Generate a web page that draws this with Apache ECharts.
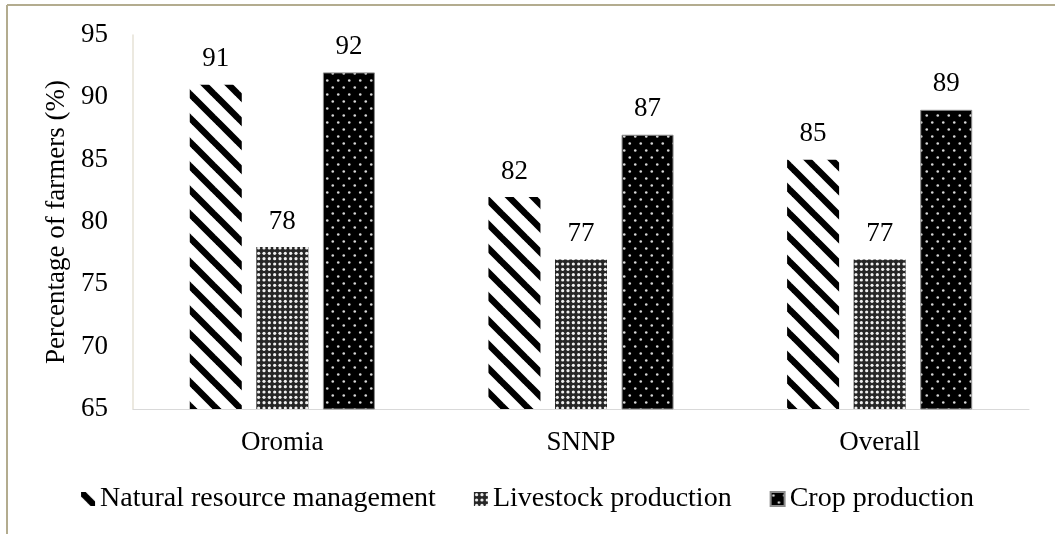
<!DOCTYPE html>
<html>
<head>
<meta charset="utf-8">
<script src="https://cdn.jsdelivr.net/npm/echarts@6/dist/echarts.min.js"></script>
<style>
  html, body { margin: 0; padding: 0; background: #fff; }
  #chart { width: 1055px; height: 534px; }
</style>
</head>
<body>
<div id="chart"></div>
<script>
// Regions and the share of farmers receiving each extension service
const categories = ['Oromia', 'SNNP', 'Overall'];
const naturalResource = [91, 82, 85];
const livestock = [78, 77, 77];
const crop = [92, 87, 89];
const yTicks = { min: 65, max: 95, interval: 5 };

const FONT = 'Liberation Serif, Times New Roman, serif';
const FS = 27;

// Diagonal black stripes ("\" direction)
function stripePattern() {
  const T = 24;
  const c = document.createElement('canvas');
  c.width = T; c.height = T;
  const g = c.getContext('2d');
  g.fillStyle = '#fff';
  g.fillRect(0, 0, T, T);
  g.strokeStyle = '#000';
  g.lineWidth = 6.5;
  for (let k = -1; k <= 1; k++) {
    g.beginPath();
    g.moveTo(k * T - 2, -2);
    g.lineTo(k * T + T + 2, T + 2);
    g.stroke();
  }
  return c;
}

// Dense grid of small light dots on dark ground
function fineDotPattern() {
  const T = 16;
  const c = document.createElement('canvas');
  c.width = T; c.height = T;
  const g = c.getContext('2d');
  g.fillStyle = '#262626';
  g.fillRect(0, 0, T, T);
  g.fillStyle = '#f0f0f0';
  const step = T / 3;
  for (let i = 0; i < 3; i++) {
    for (let j = 0; j < 3; j++) {
      g.beginPath();
      g.arc(step / 2 + i * step, step / 2 + j * step, 1.6, 0, Math.PI * 2);
      g.fill();
    }
  }
  return c;
}

// Sparse staggered white dots on black
function sparseDotPattern() {
  const W = 11, H = 14;
  const c = document.createElement('canvas');
  c.width = W; c.height = H;
  const g = c.getContext('2d');
  g.fillStyle = '#000';
  g.fillRect(0, 0, W, H);
  g.fillStyle = '#d8d8d8';
  [[2.75, 3.5], [8.25, 10.5]].forEach(([x, y]) => {
    g.beginPath();
    g.arc(x, y, 1.3, 0, Math.PI * 2);
    g.fill();
  });
  return c;
}

const fills = {
  stripe: { image: stripePattern(), repeat: 'repeat' },
  fine: { image: fineDotPattern(), repeat: 'repeat' },
  sparse: { image: sparseDotPattern(), repeat: 'repeat' }
};

const labelStyle = {
  show: true,
  position: 'top',
  distance: 12,
  color: '#000',
  fontFamily: FONT,
  fontSize: FS
};

function barSeries(name, data, fill, border) {
  return {
    name: name,
    type: 'bar',
    data: data,
    barWidth: 52,
    barGap: '28%',
    itemStyle: {
      color: fill,
      borderColor: border || 'transparent',
      borderWidth: border ? 1 : 0
    },
    label: labelStyle
  };
}

const chart = echarts.init(document.getElementById('chart'), null, { renderer: 'canvas' });

chart.setOption({
  backgroundColor: '#fff',
  animation: false,
  grid: { left: 133, right: 26, top: 35, bottom: 125 },
  legend: {
    top: 480,
    left: 'center',
    itemWidth: 14,
    itemHeight: 14,
    itemGap: 38,
    icon: 'rect',
    textStyle: { color: '#000', fontFamily: FONT, fontSize: 28 },
    data: ['Natural resource management', 'Livestock production', 'Crop production']
  },
  xAxis: {
    type: 'category',
    data: categories,
    axisLine: { lineStyle: { color: '#d9d9d9', width: 1 } },
    axisTick: { show: false },
    axisLabel: { color: '#000', fontFamily: FONT, fontSize: FS, margin: 20 }
  },
  yAxis: {
    type: 'value',
    min: yTicks.min,
    max: yTicks.max,
    interval: yTicks.interval,
    name: 'Percentage of farmers (%)',
    nameLocation: 'middle',
    nameGap: 60,
    nameTextStyle: { color: '#000', fontFamily: FONT, fontSize: FS },
    axisLine: { show: true, lineStyle: { color: '#e6e2d6', width: 1.5 } },
    axisTick: { show: false },
    splitLine: { show: false },
    axisLabel: { color: '#000', fontFamily: FONT, fontSize: FS, margin: 25 }
  },
  series: [
    barSeries('Natural resource management', naturalResource, fills.stripe),
    barSeries('Livestock production', livestock, fills.fine),
    barSeries('Crop production', crop, fills.sparse, '#8c8c8c')
  ],
  graphic: [
    // outer frame: top and left edges
    { type: 'line', shape: { x1: 7, y1: 5, x2: 1055, y2: 5 }, style: { stroke: '#b3ac8f', lineWidth: 2 } },
    { type: 'line', shape: { x1: 7, y1: 5, x2: 7, y2: 534 }, style: { stroke: '#b3ac8f', lineWidth: 2 } }
  ]
});
</script>
</body>
</html>
